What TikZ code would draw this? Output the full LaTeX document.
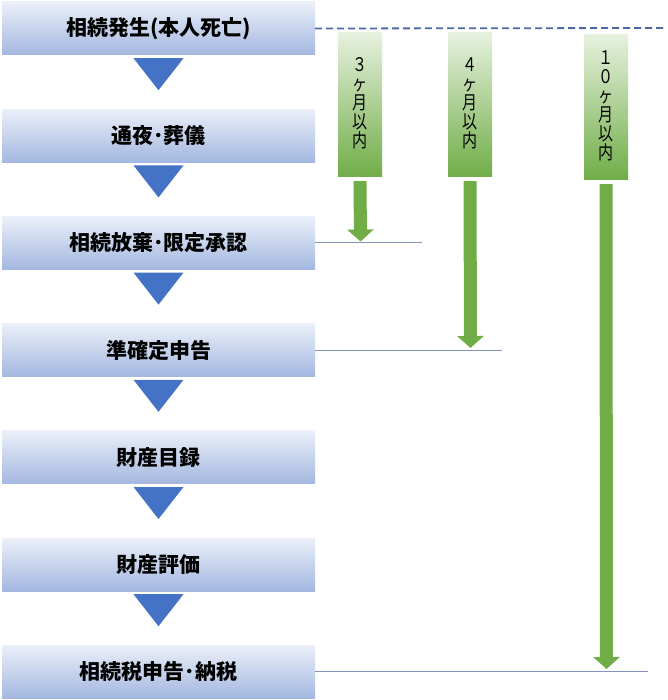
\documentclass[tikz,border=0pt]{standalone}
\usepackage{fontspec}
\usepackage{graphicx}
\newfontfamily\jp{Noto Sans CJK JP}
\usetikzlibrary{arrows.meta}
\definecolor{boxtop}{HTML}{EBF0F9}
\definecolor{boxbot}{HTML}{A3B7E0}
\definecolor{tri}{HTML}{4472C4}
\definecolor{gtop}{HTML}{E6F1DE}
\definecolor{gbot}{HTML}{70AD47}
\definecolor{garr}{HTML}{70AD47}
\definecolor{lineclr}{HTML}{8393B5}
\definecolor{dashclr}{HTML}{4A6AA5}
\newcommand{\vstk}[1]{\scalebox{1}[1.25]{\parbox{20pt}{\centering\jp\fontsize{15}{15.2}\selectfont #1}}}
\tikzset{
  stepbox/.style={rectangle, minimum width=313pt, minimum height=53pt, inner sep=0pt,
    top color=boxtop, bottom color=boxbot, draw=none,
    font=\jp\bfseries\fontsize{21}{25}\selectfont},
  tri/.style={fill=tri, draw=none},
  gbox/.style={rectangle, minimum width=44pt, inner sep=0pt, top color=gtop, bottom color=gbot, draw=none},
  gtext/.style={inner sep=0pt},
  garrow/.style={draw=garr, line width=13pt, -{Triangle[width=26pt,length=12pt]}},
  limitline/.style={draw=lineclr, line width=1.1pt},
  dashline/.style={draw=dashclr, line width=1.8pt, dash pattern=on 7pt off 4pt},
}
\begin{document}
\begin{tikzpicture}[x=1pt,y=-1pt]
\useasboundingbox (0,0) rectangle (667,700);
% step boxes
\node[stepbox] (b1) at (158.5, 28.5)  {相続発生(本人死亡)};
\node[stepbox] (b2) at (158.5, 135.7) {通夜･葬儀};
\node[stepbox] (b3) at (158.5, 242.9) {相続放棄･限定承認};
\node[stepbox] (b4) at (158.5, 350.1) {準確定申告};
\node[stepbox] (b5) at (158.5, 457.3) {財産目録};
\node[stepbox] (b6) at (158.5, 564.5) {財産評価};
\node[stepbox] (b7) at (158.5, 671.7) {相続税申告･納税};
% triangles between boxes
\foreach \a/\b in {b1/b2,b2/b3,b3/b4,b4/b5,b5/b6,b6/b7}{
  \fill[tri] ([xshift=-25pt,yshift=-3pt]\a.south) -- ([xshift=25pt,yshift=-3pt]\a.south)
     -- ([yshift=-35pt]\a.south) -- cycle;
}
% dashed line from start
\coordinate (dend) at (667, 28);
\draw[dashline] (b1.east) -- (dend);
% green boxes
\node[gbox, minimum height=144pt] (g1) at (360, 105) {};
\node[gbox, minimum height=144pt] (g2) at (470, 105) {};
\node[gbox, minimum height=145pt] (g3) at (606, 107.5) {};
\node[gtext] (g1t) at (360, 103) {\vstk{３\\ヶ\\月\\以\\内}};
\node[gtext] (g2t) at (470, 103) {\vstk{４\\ヶ\\月\\以\\内}};
\node[gtext] (g3t) at (606, 106) {\vstk{１\\０\\ヶ\\月\\以\\内}};
% deadline lines
\coordinate (l1) at (422, 242.9);
\coordinate (l2) at (502, 350.1);
\coordinate (l3) at (648, 671.7);
\draw[limitline] (b3.east) -- (l1);
\draw[limitline] (b4.east) -- (l2);
\draw[limitline] (b7.east) -- (l3);
% green arrows
\coordinate (t1) at (360.5, 241.5);
\coordinate (t2) at (470.5, 348);
\coordinate (t3) at (606.5, 669);
\draw[garrow] ([yshift=-4pt]g1.south) -- (t1);
\draw[garrow] ([yshift=-4pt]g2.south) -- (t2);
\draw[garrow] ([yshift=-4pt]g3.south) -- (t3);
\end{tikzpicture}
\end{document}
